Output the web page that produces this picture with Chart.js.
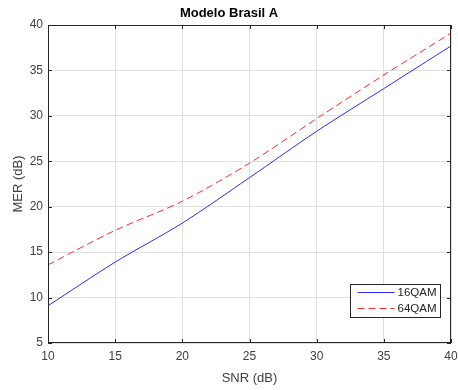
<!DOCTYPE html>
<html>
<head>
<meta charset="utf-8">
<script src="https://cdn.jsdelivr.net/npm/chart.js@4.4.1/dist/chart.umd.min.js"></script>
<style>
  html, body { margin: 0; padding: 0; background: #fff; }
  #wrap { width: 458px; height: 390px; }
</style>
</head>
<body>
<div id="wrap"><canvas id="chart"></canvas></div>
<script>
// data
const snr = [10, 15, 20, 25, 30, 35, 40];
const mer16 = [9.1, 13.9, 18.2, 23.2, 28.3, 33.0, 37.7];
const mer64 = [13.6, 17.4, 20.6, 24.8, 29.7, 34.5, 39.1];
const xTicks = [10, 15, 20, 25, 30, 35, 40];
const yTicks = [5, 10, 15, 20, 25, 30, 35, 40];

const FONT = 'Liberation Sans, Arial, Helvetica, sans-serif';

// box, inward ticks and legend like MATLAB
const matlabBox = {
    id: 'matlabBox',
    afterDatasetsDraw(chart) {
        const ctx = chart.ctx;
        const a = chart.chartArea;
        const xs = chart.scales.x, ys = chart.scales.y;
        ctx.save();
        ctx.strokeStyle = '#262626';
        ctx.lineWidth = 1;
        ctx.strokeRect(a.left + 0.5, a.top + 0.5, a.right - a.left - 1, a.bottom - a.top - 1);
        ctx.beginPath();
        xTicks.forEach(v => {
            const px = Math.round(xs.getPixelForValue(v)) + 0.5;
            ctx.moveTo(px, a.bottom); ctx.lineTo(px, a.bottom - 4);
            ctx.moveTo(px, a.top); ctx.lineTo(px, a.top + 4);
        });
        yTicks.forEach(v => {
            const py = Math.round(ys.getPixelForValue(v)) + 0.5;
            ctx.moveTo(a.left, py); ctx.lineTo(a.left + 4, py);
            ctx.moveTo(a.right, py); ctx.lineTo(a.right - 4, py);
        });
        ctx.stroke();

        // legend
        const bx = 350.5, by = 284.5, bw = 90, bh = 33;
        ctx.fillStyle = '#fff';
        ctx.fillRect(bx, by, bw, bh);
        ctx.strokeStyle = '#262626';
        ctx.strokeRect(bx, by, bw, bh);
        ctx.font = '11.5px ' + FONT;
        ctx.textBaseline = 'middle';
        ctx.textAlign = 'left';
        chart.data.datasets.forEach((ds, i) => {
            const y = by + 8 + i * 16;
            ctx.strokeStyle = ds.borderColor;
            ctx.setLineDash(ds.borderDash || []);
            ctx.beginPath();
            ctx.moveTo(bx + 7, y); ctx.lineTo(bx + 44, y);
            ctx.stroke();
            ctx.setLineDash([]);
            ctx.fillStyle = '#262626';
            ctx.fillText(ds.label, bx + 47, y + 0.5);
        });
        ctx.restore();
    }
};

new Chart(document.getElementById('chart'), {
    type: 'line',
    data: {
        datasets: [{
            label: '16QAM',
            data: snr.map((x, i) => ({ x: x, y: mer16[i] })),
            borderColor: '#2a2aff',
            borderWidth: 1,
            pointRadius: 0,
            tension: 0.3
        }, {
            label: '64QAM',
            data: snr.map((x, i) => ({ x: x, y: mer64[i] })),
            borderColor: '#ff2a2a',
            borderWidth: 1,
            borderDash: [7, 4],
            pointRadius: 0,
            tension: 0.3
        }]
    },
    options: {
        responsive: true,
        maintainAspectRatio: false,
        animation: false,
        layout: { padding: { left: 0, right: 0, top: 0, bottom: 0 } },
        plugins: {
            legend: { display: false },
            tooltip: { enabled: false },
            title: {
                display: true,
                text: 'Modelo Brasil A',
                color: '#000',
                font: { family: FONT, size: 13, weight: 'bold' },
                padding: { top: 6, bottom: 3.4 }
            }
        },
        scales: {
            x: {
                type: 'linear',
                min: 10, max: 40,
                afterBuildTicks: s => { s.ticks = xTicks.map(v => ({ value: v })); },
                afterFit: s => { s.height = 47; s.paddingRight = 7; s.paddingLeft = 0; },
                grid: { color: '#dfdfdf', drawTicks: false },
                border: { display: false },
                ticks: { color: '#404040', font: { family: FONT, size: 12 }, padding: 6, maxRotation: 0 },
                title: { display: true, text: 'SNR (dB)', color: '#404040', font: { family: FONT, size: 13 }, padding: { top: 1 } }
            },
            y: {
                type: 'linear',
                min: 5, max: 40,
                afterBuildTicks: s => { s.ticks = yTicks.map(v => ({ value: v })); },
                afterFit: s => { s.width = 48; },
                grid: { color: '#dfdfdf', drawTicks: false },
                border: { display: false },
                ticks: { color: '#404040', font: { family: FONT, size: 12 }, padding: 5 },
                title: { display: true, text: 'MER (dB)', color: '#404040', font: { family: FONT, size: 13 }, padding: { bottom: 0, top: 11 } }
            }
        }
    },
    plugins: [matlabBox]
});
</script>
</body>
</html>
